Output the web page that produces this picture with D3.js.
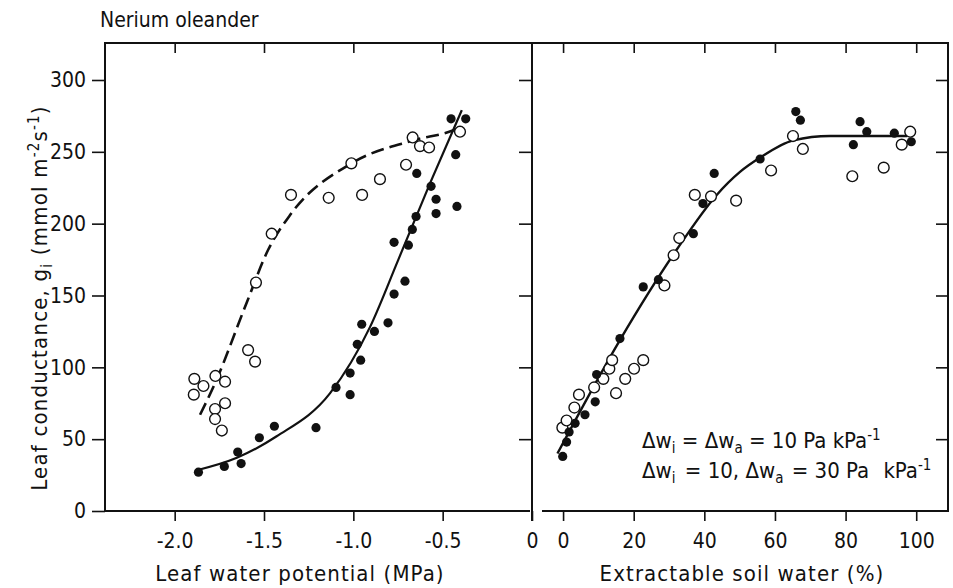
<!DOCTYPE html>
<html>
<head>
<meta charset="utf-8">
<title>Nerium oleander leaf conductance</title>
<script src="https://cdn.jsdelivr.net/npm/d3@7/dist/d3.min.js"></script>
<style>
body { margin: 0; background: #fff; }
svg text {
	font-family: "DejaVu Sans Condensed", "DejaVu Sans", sans-serif;
	font-stretch: condensed;
	fill: #111;
}
.domain { display: none; }
.tick line { stroke: #111; stroke-width: 1.6; }
</style>
</head>
<body>
<svg id="chart"></svg>
<script>
// left panel: leaf water potential (MPa) vs conductance
var psiFilled = [-1.867, -1.722, -1.628, -1.647, -1.526, -1.442, -1.209, -1.097, -1.018, -1.018,
	-0.959, -0.978, -0.953, -0.882, -0.806, -0.772, -0.711, -0.772, -0.692, -0.670,
	-0.649, -0.537, -0.420, -0.537, -0.565, -0.645, -0.427, -0.453, -0.371];
var gFilledL = [27, 31, 33, 41, 51, 59, 58, 86, 81, 96,
	105, 116, 130, 125, 131, 151, 160, 187, 185, 196,
	205, 207, 212, 217, 226, 235, 248, 273, 273];

var psiOpen = [-1.890, -1.839, -1.893, -1.772, -1.718, -1.718, -1.774, -1.774, -1.736, -1.589,
	-1.550, -1.545, -1.457, -1.349, -1.138, -0.951, -1.011, -0.851, -0.705, -0.668,
	-0.627, -0.576, -0.403];
var gOpenL = [92, 87, 81, 94, 90, 75, 71, 64, 56, 112,
	104, 159, 193, 220, 218, 220, 242, 231, 241, 260,
	254, 253, 264];

// fitted curves
var psiSolidFit = [-1.886, -1.652, -1.429, -1.130, -0.907, -0.748, -0.571, -0.393];
var gSolidFit = [28, 37, 52, 82, 128, 175, 228, 279];
var psiDashFit = [-1.858, -1.774, -1.597, -1.476, -1.354, -1.011, -0.664, -0.440, -0.403];
var gDashFit = [67, 89, 145, 182, 206, 242, 258, 265, 267];

// right panel: extractable soil water (%) vs conductance
var swFilled = [-0.1, 1.0, 1.7, 3.4, 6.2, 9.1, 9.5, 16.1, 22.7, 27.0,
	36.9, 39.6, 42.8, 55.8, 65.9, 67.2, 82.2, 84.1, 86.0, 93.8, 98.6];
var gFilledR = [38, 48, 55, 61, 67, 76, 95, 120, 156, 161,
	193, 214, 235, 245, 278, 272, 255, 271, 264, 263, 257];

var swOpen = [-0.2, 1.0, 3.2, 4.5, 8.8, 11.4, 13.1, 13.9, 15.0, 17.6,
	20.1, 22.7, 28.7, 31.3, 32.9, 37.3, 41.9, 49.0, 58.9, 65.1,
	67.9, 81.9, 90.8, 95.9, 98.3];
var gOpenR = [58, 63, 72, 81, 86, 92, 99, 105, 82, 92,
	99, 105, 157, 178, 190, 220, 219, 216, 237, 261,
	252, 233, 239, 255, 264];

var swFit = [-1.6, 16.1, 32.2, 43.5, 50.1, 55.8, 65.2, 75.6, 97.4];
var gFit = [40, 119, 182, 220, 236, 246, 258, 261, 261];

var yTicks = [0, 50, 100, 150, 200, 250, 300];
var psiTicks = [-2.0, -1.5, -1.0, -0.5, 0];
var swTicks = [0, 20, 40, 60, 80, 100];

var width = 953, height = 588;
var top_ = 43, bottom = 511;
var leftL = 105, split = 532, rightR = 948;

var svg = d3.select("#chart")
	.attr("width", width)
	.attr("height", height);

var y = d3.scaleLinear().domain([0, 325.75]).range([bottom, top_]);
var xL = d3.scaleLinear().domain([-2.39, 0]).range([leftL, split]);
var xR = d3.scaleLinear().domain([-8.8, 109]).range([split, rightR]);

var fmtPsi = function (d) { return d === 0 ? "0" : d.toFixed(1); };

// axes
svg.append("g")
	.attr("transform", "translate(" + leftL + ",0)")
	.call(d3.axisLeft(y).tickValues(yTicks).tickSize(13).tickPadding(6))
	.selectAll("text").style("font-size", "21px");

svg.append("g")
	.attr("transform", "translate(0," + bottom + ")")
	.call(d3.axisBottom(xL).tickValues(psiTicks).tickSize(10).tickPadding(12).tickFormat(fmtPsi))
	.selectAll("text").style("font-size", "21px");

svg.append("g")
	.attr("transform", "translate(0," + bottom + ")")
	.call(d3.axisBottom(xR).tickValues(swTicks).tickSize(10).tickPadding(12))
	.selectAll("text").style("font-size", "21px");

// inner ticks on top, right and the split line
svg.append("g")
	.attr("transform", "translate(0," + top_ + ")")
	.call(d3.axisBottom(xL).tickValues(psiTicks.slice(0, 4)).tickSize(10).tickFormat(""));
svg.append("g")
	.attr("transform", "translate(0," + top_ + ")")
	.call(d3.axisBottom(xR).tickValues(swTicks).tickSize(10).tickFormat(""));
svg.append("g")
	.attr("transform", "translate(" + split + ",0)")
	.call(d3.axisLeft(y).tickValues(yTicks.slice(1)).tickSize(13).tickFormat(""));
svg.append("g")
	.attr("transform", "translate(" + rightR + ",0)")
	.call(d3.axisLeft(y).tickValues(yTicks.slice(1)).tickSize(12).tickFormat(""));

// frames
var frame = svg.append("g").attr("fill", "none").attr("stroke", "#111").attr("stroke-width", 2);
frame.append("path").attr("d", "M" + leftL + "," + bottom + "V" + top_ + "H" + rightR + "V" + bottom + "H542");
frame.append("path").attr("d", "M" + (split - 2) + "," + bottom + "H" + leftL);
frame.append("path").attr("d", "M" + split + "," + top_ + "V" + (bottom + 10));

// fitted lines
var lineL = d3.line()
	.x(function (d) { return xL(d[0]); })
	.y(function (d) { return y(d[1]); })
	.curve(d3.curveMonotoneX);
var lineR = d3.line()
	.x(function (d) { return xR(d[0]); })
	.y(function (d) { return y(d[1]); })
	.curve(d3.curveMonotoneX);

svg.append("path")
	.datum(d3.zip(psiSolidFit, gSolidFit))
	.attr("d", lineL)
	.attr("fill", "none").attr("stroke", "#111").attr("stroke-width", 2.2);

svg.append("path")
	.datum(d3.zip(psiDashFit, gDashFit))
	.attr("d", lineL)
	.attr("fill", "none").attr("stroke", "#111").attr("stroke-width", 2.6)
	.attr("stroke-dasharray", "13,6");

svg.append("path")
	.datum(d3.zip(swFit, gFit))
	.attr("d", lineR)
	.attr("fill", "none").attr("stroke", "#111").attr("stroke-width", 2.4);

// points
function dots(xs, ys, sx, filled) {
	svg.append("g").selectAll("circle")
		.data(d3.zip(xs, ys))
		.enter()
		.append("circle")
		.attr("cx", function (d) { return sx(d[0]); })
		.attr("cy", function (d) { return y(d[1]); })
		.attr("r", filled ? 4.6 : 5.4)
		.attr("fill", filled ? "#111" : "#fff")
		.attr("stroke", "#111")
		.attr("stroke-width", filled ? 0 : 1.4);
}
dots(psiOpen, gOpenL, xL, false);
dots(psiFilled, gFilledL, xL, true);
dots(swOpen, gOpenR, xR, false);
dots(swFilled, gFilledR, xR, true);

// texts
svg.append("text")
	.attr("x", 100).attr("y", 27)
	.style("font-size", "21px")
	.text("Nerium oleander");

svg.append("text")
	.attr("x", 300).attr("y", 581)
	.attr("text-anchor", "middle")
	.style("font-size", "22px")
	.style("letter-spacing", "1.1px")
	.text("Leaf water potential (MPa)");

svg.append("text")
	.attr("x", 742).attr("y", 581)
	.attr("text-anchor", "middle")
	.style("font-size", "22px")
	.style("letter-spacing", "1.1px")
	.text("Extractable soil water (%)");

var ylab = svg.append("text")
	.attr("transform", "translate(47,298) rotate(-90)")
	.attr("text-anchor", "middle")
	.style("font-size", "22px")
	.style("letter-spacing", "1.2px");
ylab.append("tspan").text("Leaf conductance, g");
ylab.append("tspan").attr("dy", 5).style("font-size", "15px").text("i");
ylab.append("tspan").attr("dy", -5).text(" (mmol m");
ylab.append("tspan").attr("dy", -8).style("font-size", "15px").text("-2");
ylab.append("tspan").attr("dy", 8).text("s");
ylab.append("tspan").attr("dy", -8).style("font-size", "15px").text("-1");
ylab.append("tspan").attr("dy", 8).text(")");

function legendLine(yy, parts) {
	var t = svg.append("text").attr("x", 642).attr("y", yy).style("font-size", "22px");
	parts.forEach(function (p) {
		var ts = t.append("tspan").text(p[0]);
		if (p[1] === "sub") ts.attr("dy", 5).style("font-size", "15px");
		if (p[1] === "sup") ts.attr("dy", -8).style("font-size", "15px");
		if (p[1] === "back") ts.attr("dy", -5);
		if (p[2]) ts.attr("dx", p[2]);
	});
}
legendLine(448, [["\u0394w"], ["i", "sub"], [" = \u0394w", "back"], ["a", "sub"], [" = 10 Pa kPa", "back"], ["-1", "sup"]]);
legendLine(478, [["\u0394w"], ["i", "sub"], [" = 10, \u0394w", "back", 3], ["a", "sub"], [" = 30 Pa", "back", 2], [" kPa", null, 8], ["-1", "sup"]]);
</script>
</body>
</html>
